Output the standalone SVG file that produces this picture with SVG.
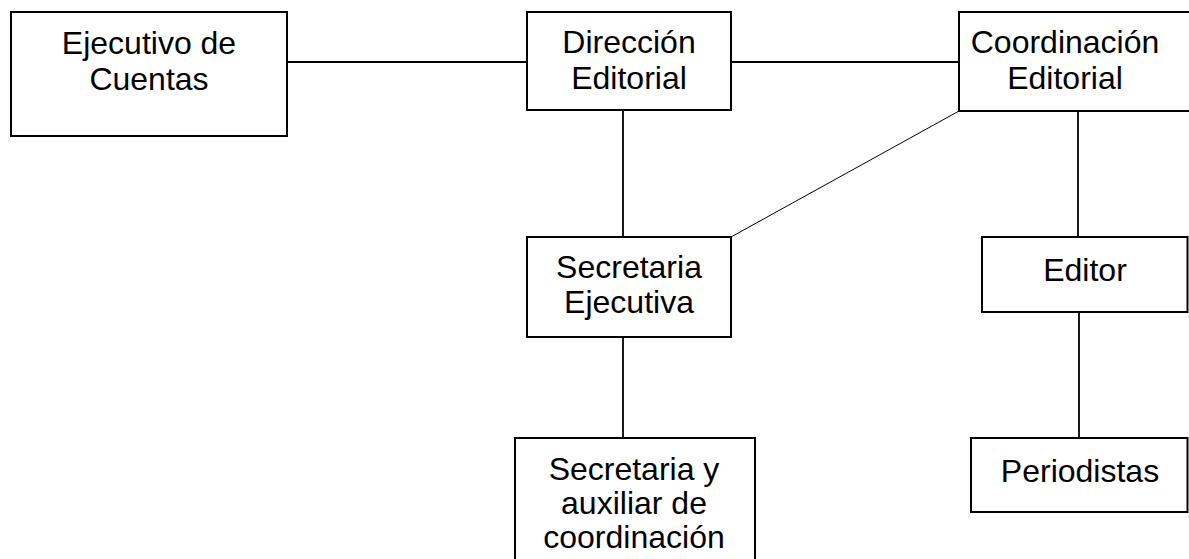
<svg xmlns="http://www.w3.org/2000/svg" width="1189" height="559" viewBox="0 0 1189 559">
<style>
.box{fill:#fff;stroke:#000;stroke-width:2}
.t{font-family:"Liberation Sans",Arial,sans-serif;font-size:32px;fill:#000;text-anchor:middle}
.c{stroke:#000;stroke-width:1.8;fill:none}
.d{stroke:#000;stroke-width:1;fill:none}
</style>
<rect width="1189" height="559" fill="#fff"/>
<g id="connectors">
<line class="c" x1="287" y1="62" x2="527" y2="62"/>
<line class="c" x1="731" y1="62" x2="959" y2="62"/>
<line class="c" x1="623" y1="110" x2="623" y2="237"/>
<line class="d" x1="959" y1="111" x2="731" y2="237"/>
<line class="c" x1="1078" y1="111" x2="1078" y2="237"/>
<line class="c" x1="623" y1="337" x2="623" y2="438"/>
<line class="c" x1="1079" y1="312" x2="1079" y2="438"/>
</g>
<g id="ejecutivo">
<rect class="box" x="11" y="12" width="276" height="124"/>
<text class="t" x="149" y="54">Ejecutivo de</text>
<text class="t" x="149" y="90">Cuentas</text>
</g>
<g id="direccion">
<rect class="box" x="527" y="12" width="204" height="98"/>
<text class="t" x="629" y="53">Dirección</text>
<text class="t" x="629" y="89">Editorial</text>
</g>
<g id="coordinacion">
<rect class="box" x="959" y="12" width="240" height="99"/>
<text class="t" x="1065" y="53">Coordinación</text>
<text class="t" x="1065" y="89">Editorial</text>
</g>
<g id="secretaria-ejecutiva">
<rect class="box" x="527" y="237" width="204" height="100"/>
<text class="t" x="629" y="278">Secretaria</text>
<text class="t" x="629" y="313">Ejecutiva</text>
</g>
<g id="editor">
<rect class="box" x="982" y="237" width="205.5" height="75"/>
<text class="t" x="1085" y="281">Editor</text>
</g>
<g id="secretaria-auxiliar">
<rect class="box" x="515" y="438" width="240" height="140"/>
<text class="t" x="634" y="480">Secretaria y</text>
<text class="t" x="634" y="514">auxiliar de</text>
<text class="t" x="634" y="548">coordinación</text>
</g>
<g id="periodistas">
<rect class="box" x="971" y="438" width="216.5" height="74"/>
<text class="t" x="1080" y="482">Periodistas</text>
</g>
</svg>
